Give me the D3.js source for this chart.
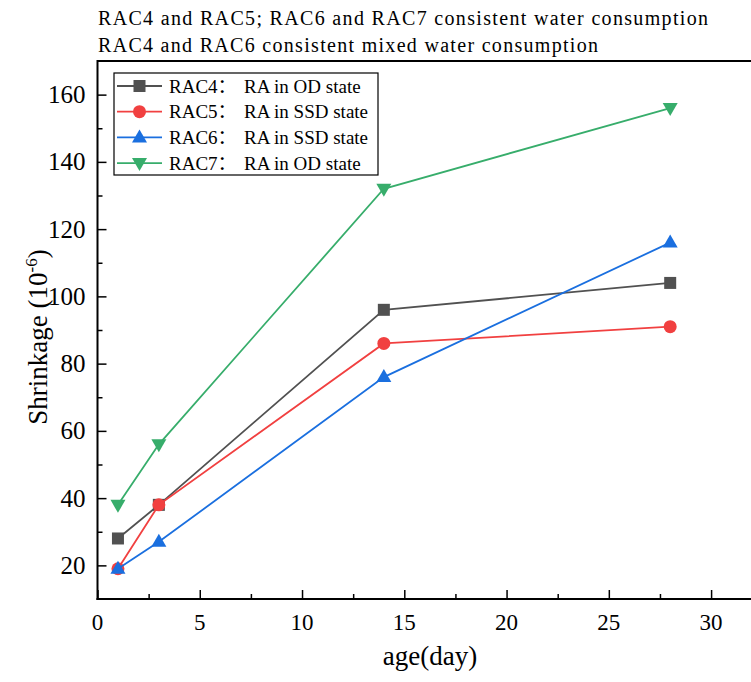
<!DOCTYPE html>
<html>
<head>
<meta charset="utf-8">
<script src="https://cdn.jsdelivr.net/npm/d3@7"></script>
<style>
  html, body { margin: 0; padding: 0; background: #fff; }
  svg { display: block; font-family: "Liberation Serif", "Times New Roman", serif; }
</style>
</head>
<body>
<svg id="chart" width="751" height="682"></svg>
<script>
// data
const days = [1, 3, 14, 28];
const seriesIds = ["RAC4", "RAC5", "RAC6", "RAC7"];
const seriesDesc = ["RA in OD state", "RA in SSD state", "RA in SSD state", "RA in OD state"];
const rac4 = [28, 38, 96, 104];
const rac5 = [19, 38, 86, 91];
const rac6 = [19, 27, 76, 116];
const rac7 = [38, 56, 132, 156];
const colors = ["#515151", "#F14040", "#1A6FDF", "#37AD6B"];
const symbols = ["square", "circle", "triangleUp", "triangleDown"];
const titleLines = ["RAC4 and RAC5; RAC6 and RAC7 consistent water consumption",
                    "RAC4 and RAC6 consistent mixed water consumption"];
const titleWidths = [610, 500];
const xTicks = [0, 5, 10, 15, 20, 25, 30];
const yTicks = [20, 40, 60, 80, 100, 120, 140, 160];

const svg = d3.select("#chart");
const plotLeft = 97.5, plotRight = 752, plotTop = 61, plotBottom = 599;

const x = d3.scaleLinear().domain([0, 32]).range([plotLeft, plotRight]);
const y = d3.scaleLinear().domain([10, 170]).range([plotBottom, plotTop]);

// title
svg.append("g").selectAll("text")
    .data(titleLines)
    .join("text")
    .attr("x", 98)
    .attr("y", (d, i) => 24.5 + i * 27.5)
    .attr("textLength", (d, i) => titleWidths[i])
    .attr("lengthAdjust", "spacing")
    .style("font-size", "20px")
    .text(d => d);

// top frame line
svg.append("line")
    .attr("x1", plotLeft).attr("x2", 751)
    .attr("y1", plotTop).attr("y2", plotTop)
    .attr("stroke", "#000").attr("stroke-width", 2);

function clearAxisAttrs(g) {
    g.attr("fill", null).attr("font-size", null).attr("font-family", null).attr("text-anchor", null);
}

// x axis, ticks pointing inward
const xAxis = svg.append("g")
    .attr("transform", `translate(0,${plotBottom})`);
xAxis.call(d3.axisTop(x).tickValues(d3.range(2.5, 32, 5)).tickSize(5).tickFormat(""));
xAxis.append("g").call(d3.axisTop(x).tickValues(xTicks).tickSize(9).tickFormat("")).call(clearAxisAttrs);
xAxis.call(clearAxisAttrs);
xAxis.selectAll("path.domain").remove();
xAxis.selectAll("line").attr("stroke", "#000").attr("stroke-width", 1.5);
xAxis.append("line").attr("x1", plotLeft - 1).attr("x2", 751).attr("stroke", "#000").attr("stroke-width", 2);
xAxis.append("g").selectAll("text")
    .data(xTicks)
    .join("text")
    .attr("x", d => x(d))
    .attr("y", 31)
    .attr("text-anchor", "middle")
    .attr("fill", "#000")
    .style("font-size", "23px")
    .text(d => d);

// y axis, ticks pointing inward
const yAxis = svg.append("g")
    .attr("transform", `translate(${plotLeft},0)`);
yAxis.call(d3.axisRight(y).tickValues(d3.range(30, 170, 20)).tickSize(5).tickFormat(""));
yAxis.append("g").call(d3.axisRight(y).tickValues(yTicks).tickSize(9).tickFormat("")).call(clearAxisAttrs);
yAxis.call(clearAxisAttrs);
yAxis.selectAll("path.domain").remove();
yAxis.selectAll("line").attr("stroke", "#000").attr("stroke-width", 1.5);
yAxis.append("line").attr("y1", plotTop - 1).attr("y2", plotBottom + 1).attr("stroke", "#000").attr("stroke-width", 2);
yAxis.append("g").selectAll("text")
    .data(yTicks)
    .join("text")
    .attr("x", -12)
    .attr("y", d => y(d) + 8.5)
    .attr("text-anchor", "end")
    .attr("fill", "#000")
    .style("font-size", "25px")
    .text(d => d);

// axis titles
svg.append("text")
    .attr("x", 430).attr("y", 665)
    .attr("text-anchor", "middle")
    .style("font-size", "27px")
    .text("age(day)");

const yTitle = svg.append("text")
    .attr("transform", "translate(47,337) rotate(-90)")
    .attr("text-anchor", "middle")
    .style("font-size", "27px");
yTitle.append("tspan").text("Shrinkage (10");
yTitle.append("tspan").attr("dy", -10).style("font-size", "17px").text("-6");
yTitle.append("tspan").attr("dy", 10).text(")");

// markers
function marker(sel, type, color) {
    if (type === "circle") {
        sel.append("circle").attr("r", 6.5).attr("fill", color);
    } else if (type === "square") {
        sel.append("rect").attr("x", -6).attr("y", -6).attr("width", 12).attr("height", 12).attr("fill", color);
    } else if (type === "triangleUp") {
        sel.append("path").attr("d", "M0,-8 L7.5,5 L-7.5,5 Z").attr("fill", color);
    } else {
        sel.append("path").attr("d", "M0,8 L7.5,-5 L-7.5,-5 Z").attr("fill", color);
    }
}

const allSeries = [rac4, rac5, rac6, rac7];
const line = d3.line().x(d => x(d[0])).y(d => y(d[1]));

allSeries.forEach((vals, i) => {
    const pts = days.map((d, j) => [d, vals[j]]);
    const g = svg.append("g");
    g.append("path")
        .attr("d", line(pts))
        .attr("fill", "none")
        .attr("stroke", colors[i])
        .attr("stroke-width", 1.8);
    g.selectAll("g.pt")
        .data(pts)
        .join("g")
        .attr("class", "pt")
        .attr("transform", d => `translate(${x(d[0])},${y(d[1])})`)
        .each(function () { marker(d3.select(this), symbols[i], colors[i]); });
});

// legend
const legend = svg.append("g");
legend.append("rect")
    .attr("x", 114).attr("y", 73)
    .attr("width", 264).attr("height", 102)
    .attr("fill", "#fff").attr("stroke", "#000").attr("stroke-width", 1.2);
seriesIds.forEach((id, i) => {
    const ly = 86 + i * 25.7;
    const row = legend.append("g").attr("transform", `translate(0,${ly})`);
    row.append("line").attr("x1", 117).attr("x2", 162)
        .attr("stroke", colors[i]).attr("stroke-width", 1.8);
    marker(row.append("g").attr("transform", "translate(139.5,0)"), symbols[i], colors[i]);
    const t = row.append("text")
        .attr("x", 169).attr("y", 6.5)
        .style("font-size", "19px");
    t.append("tspan").text(id);
    t.append("tspan").style("font-family", "'Noto Sans CJK SC'").text("：");
    t.append("tspan").attr("x", 244).text(seriesDesc[i]);
});
</script>
</body>
</html>
